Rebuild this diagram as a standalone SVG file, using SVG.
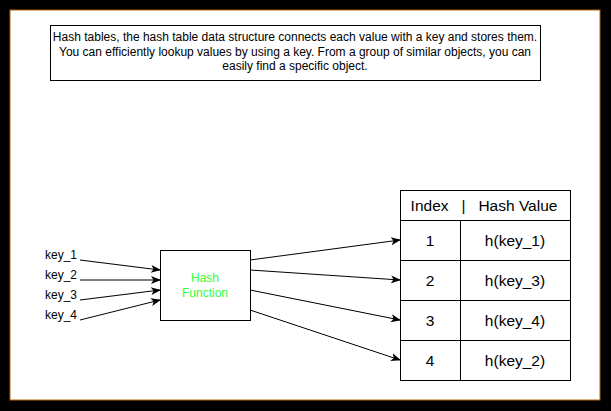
<svg xmlns="http://www.w3.org/2000/svg" width="611" height="411" viewBox="0 0 611 411">
<style>
text{font-family:"Liberation Sans",Arial,sans-serif;fill:#000}
.box{fill:#fff;stroke:#000;stroke-width:1}
.s12{font-size:12px}
.s15{font-size:15.5px}
.c{text-anchor:middle}
.edge{stroke:#000;stroke-width:1;fill:none;marker-end:url(#arr)}
</style>
<defs>
<marker id="arr" viewBox="0 0 10 10" refX="9" refY="5" markerWidth="10" markerHeight="10" markerUnits="userSpaceOnUse" orient="auto">
<path d="M0,1 L10,5 L0,9 L2.5,5 Z" fill="#000"/>
</marker>
</defs>
<rect width="611" height="411" fill="#000"/>
<rect id="background" x="10" y="10" width="590" height="390" fill="#fff" stroke="#B46504" stroke-width="1"/>
<g id="description">
<rect class="box" x="50.5" y="25.5" width="490" height="55"/>
<text class="s12 c" x="295" y="41">Hash tables, the hash table data structure connects each value with a key and stores them.</text>
<text class="s12 c" x="295" y="55.5">You can efficiently lookup values by using a key. From a group of similar objects, you can</text>
<text class="s12 c" x="295" y="70">easily find a specific object.</text>
</g>
<g id="key_1"><text class="s12" x="45" y="259">key_1</text></g>
<g id="key_2"><text class="s12" x="45" y="279">key_2</text></g>
<g id="key_3"><text class="s12" x="45" y="299">key_3</text></g>
<g id="key_4"><text class="s12" x="45" y="319">key_4</text></g>
<g id="hash_function">
<rect class="box" x="160.5" y="250.5" width="90" height="70"/>
<text class="s12 c" x="205" y="281.5" style="fill:#33FF33">Hash</text>
<text class="s12 c" x="205" y="296.5" style="fill:#33FF33">Function</text>
</g>
<g id="table">
<rect class="box" x="400.5" y="190.5" width="170" height="190"/>
<line x1="400.5" y1="220.5" x2="570.5" y2="220.5" stroke="#000"/>
<line x1="400.5" y1="260.5" x2="570.5" y2="260.5" stroke="#000"/>
<line x1="400.5" y1="300.5" x2="570.5" y2="300.5" stroke="#000"/>
<line x1="400.5" y1="340.5" x2="570.5" y2="340.5" stroke="#000"/>
<line x1="460.5" y1="220.5" x2="460.5" y2="380.5" stroke="#000"/>
<text class="s15 c" x="484" y="211" xml:space="preserve">Index   |   Hash Value</text>
<text class="s15 c" x="430" y="245.5">1</text>
<text class="s15 c" x="515" y="245.5">h(key_1)</text>
<text class="s15 c" x="430" y="285.5">2</text>
<text class="s15 c" x="515" y="285.5">h(key_3)</text>
<text class="s15 c" x="430" y="325.5">3</text>
<text class="s15 c" x="515" y="325.5">h(key_4)</text>
<text class="s15 c" x="430" y="365.5">4</text>
<text class="s15 c" x="515" y="365.5">h(key_2)</text>
</g>
<g id="connectors">
<line class="edge" x1="80" y1="260" x2="160" y2="270"/>
<line class="edge" x1="80" y1="280" x2="160" y2="280"/>
<line class="edge" x1="80" y1="300" x2="160" y2="290"/>
<line class="edge" x1="80" y1="320" x2="160" y2="300"/>
<line class="edge" x1="250" y1="260" x2="400" y2="240"/>
<line class="edge" x1="250" y1="270" x2="400" y2="280"/>
<line class="edge" x1="250" y1="290" x2="400" y2="320"/>
<line class="edge" x1="250" y1="310" x2="400" y2="360"/>
</g>
</svg>
